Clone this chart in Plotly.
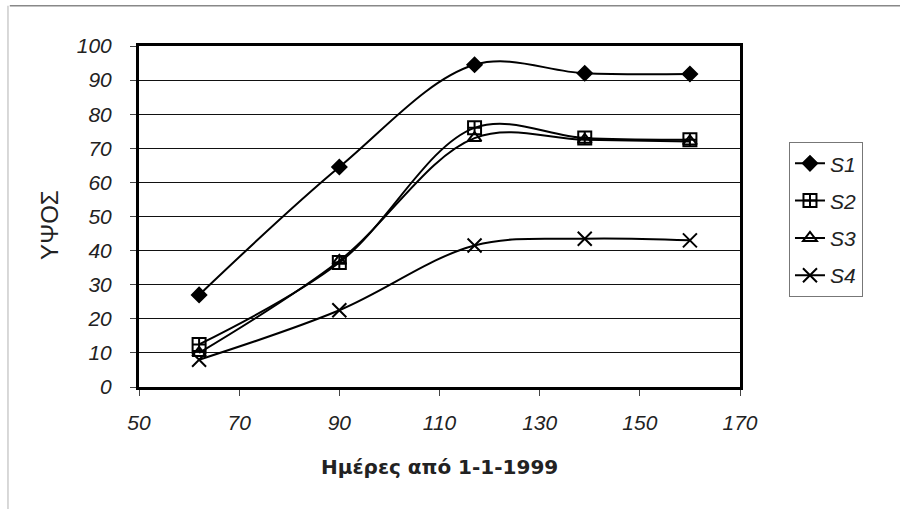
import plotly.graph_objects as go

# Days since 1-1-1999 and heights for the four series
days = [62, 90, 117, 139, 160]
s1 = [27, 64.5, 94.5, 92, 91.8]
s2 = [12.5, 36.5, 76, 73, 72.5]
s3 = [10, 37, 73, 72.5, 72]
s4 = [8, 22.5, 41.5, 43.5, 43]

series_names = ["S1", "S2", "S3", "S4"]
series_values = [s1, s2, s3, s4]
symbols = ["diamond", "square-cross-open", "triangle-up-open", "x-thin-open"]
sizes = [11, 13, 12, 14]

x_ticks = [50, 70, 90, 110, 130, 150, 170]
y_ticks = list(range(0, 101, 10))

fig = go.Figure()
for name, vals, sym, sz in zip(series_names, series_values, symbols, sizes):
    fig.add_trace(go.Scatter(
        x=days, y=vals, name=name, mode="lines+markers",
        line=dict(color="black", width=2, shape="spline", smoothing=1),
        marker=dict(symbol=sym, size=sz, color="black",
                    line=dict(color="black", width=2)),
        legendgroup=name,
    ))

tick_font = dict(family="Liberation Sans, Arial", size=21, color="#222", style="italic")

fig.update_layout(
    width=900, height=509,
    margin=dict(l=139, r=160, t=46, b=122),
    paper_bgcolor="white", plot_bgcolor="white",
    showlegend=True,
    legend=dict(
        x=1.0815, y=0.718, xanchor="left", yanchor="top",
        font=dict(family="Liberation Sans, Arial", size=21, color="#222", style="italic"),
        bordercolor="#777", borderwidth=1, bgcolor="white",
        traceorder="grouped", tracegroupgap=7,
    ),
    xaxis=dict(
        range=[50, 170], tickvals=x_ticks, ticktext=[str(v) for v in x_ticks],
        showgrid=False, zeroline=False,
        showline=True, linecolor="black", linewidth=3, mirror=True,
        ticks="outside", ticklen=6, tickcolor="#444", tickwidth=1,
        tickfont=tick_font, ticklabelstandoff=9,
    ),
    yaxis=dict(
        range=[0, 100], tickvals=y_ticks, ticktext=[str(v) for v in y_ticks],
        showgrid=True, gridcolor="#111", gridwidth=1.2, zeroline=False,
        showline=True, linecolor="black", linewidth=3, mirror=True,
        ticks="outside", ticklen=6, tickcolor="#444", tickwidth=1,
        tickfont=tick_font, ticklabelstandoff=14,
    ),
    annotations=[
        dict(text="Ημέρες από 1-1-1999", xref="paper", yref="paper",
             x=0.5, y=-0.235, xanchor="center", yanchor="middle", showarrow=False,
             font=dict(family="DejaVu Sans", size=20, color="#222", weight="bold")),
        dict(text="ΥΨΟΣ", xref="paper", yref="paper",
             x=-0.15, y=0.475, xanchor="center", yanchor="middle", showarrow=False,
             textangle=-90,
             font=dict(family="Liberation Sans, Arial", size=24, color="#222")),
    ],
    shapes=[
        dict(type="line", xref="paper", yref="paper",
             x0=-0.215, x1=1.27, y0=1.118, y1=1.118,
             line=dict(color="#888", width=1.5)),
        dict(type="line", xref="paper", yref="paper",
             x0=-0.218, x1=-0.218, y0=1.118, y1=-0.36,
             line=dict(color="#ccc", width=1.5)),
    ],
)

fig.write_html("out.html")
